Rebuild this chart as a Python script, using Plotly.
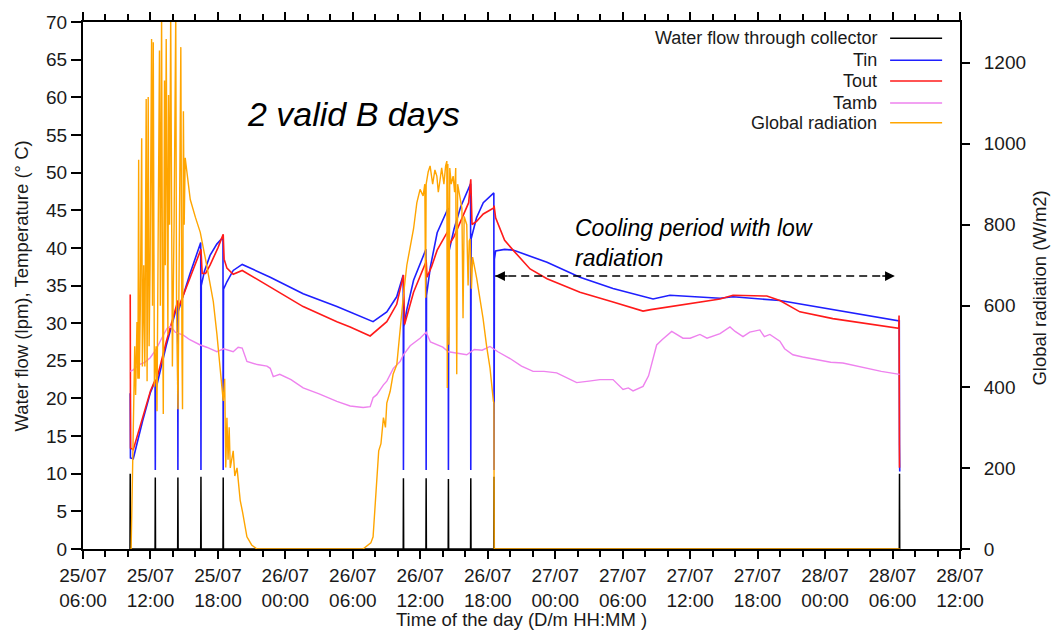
import numpy as np
import pandas as pd
import plotly.graph_objects as go

BASE = "2014-07-25 06:00"  # hours below are counted from 25/07 06:00

# Water flow through collector (lpm)
flow_h = [4.18, 4.20, 4.22, 6.41, 6.43, 6.45, 8.42, 8.44, 8.46, 10.47, 10.49, 10.51,
          12.45, 12.47, 12.49, 28.48, 28.50, 28.52, 30.50, 30.52, 30.54, 32.48, 32.50, 32.52,
          34.47, 34.49, 34.51, 36.54, 36.56, 36.58, 72.60, 72.62, 72.64]
flow_v = [0, 10.0, 0, 0, 9.5, 0, 0, 9.5, 0, 0, 9.6, 0,
          0, 9.5, 0, 0, 9.4, 0, 0, 9.4, 0, 0, 9.3, 0,
          0, 9.4, 0, 0, 9.6, 0, 0, 10.0, 0]

# Tin (deg C)
tin_h = [4.20, 4.22, 4.47, 5.30, 6.00, 6.41, 6.43, 6.45, 7.40, 8.42, 8.44, 8.46, 9.50, 10.47,
         10.49, 10.52, 10.80, 11.30, 11.90, 12.45, 12.47, 12.50, 12.80, 13.36, 14.16, 16.65,
         19.58, 22.58, 25.80, 27.02, 27.90, 28.48, 28.50, 28.53, 28.80, 29.40, 30.50, 30.52,
         30.55, 30.90, 31.50, 32.48, 32.50, 32.53, 33.00, 33.60, 34.47, 34.49, 34.52, 35.00,
         35.60, 36.54, 36.56, 36.59, 36.70, 37.50, 38.25, 41.27, 44.20, 47.14, 50.70, 51.30,
         52.20, 56.66, 57.81, 61.98, 66.69, 72.60, 72.62, 72.64]
tin_v = [20.7, 12.1, 12.0, 17.0, 20.8, 22.3, 10.5, 21.0, 27.0, 32.6, 10.5, 31.5, 36.5, 40.7,
         10.5, 35.0, 36.9, 39.0, 40.5, 41.4, 10.5, 34.5, 35.5, 37.0, 37.8, 36.1,
         33.9, 32.2, 30.2, 31.5, 33.5, 36.4, 10.5, 29.5, 31.8, 35.7, 39.8, 10.5,
         33.7, 37.5, 42.0, 45.3, 10.5, 39.4, 42.5, 45.5, 48.5, 10.5, 41.2, 44.0,
         46.0, 47.3, 10.5, 38.5, 39.6, 39.8, 39.7, 38.1, 36.1, 34.6, 33.2, 33.4,
         33.7, 33.3, 33.5, 33.0, 31.8, 30.3, 13.8, 10.3]

# Tout (deg C)
tout_h = [4.20, 4.23, 4.47, 5.30, 6.00, 6.43, 6.47, 7.40, 8.44, 8.48, 9.50, 10.49, 10.60,
          10.90, 11.30, 12.00, 12.47, 12.55, 12.80, 13.36, 14.16, 16.65, 19.58, 22.58, 23.76,
          25.54, 27.02, 27.90, 28.48, 28.50, 28.60, 28.90, 29.40, 30.50, 30.52, 30.60, 31.00,
          31.50, 32.48, 32.50, 32.60, 33.00, 33.60, 34.30, 34.49, 34.60, 35.00, 35.60, 36.53,
          36.56, 36.70, 37.09, 37.50, 38.25, 39.76, 41.27, 44.20, 47.14, 49.81, 50.50, 53.10,
          56.66, 57.81, 60.82, 61.98, 63.76, 66.69, 72.55, 72.58, 72.62]
tout_v = [33.8, 13.4, 13.2, 17.5, 21.0, 22.5, 22.0, 27.5, 33.0, 32.0, 36.0, 39.8, 36.6,
          36.6, 37.7, 40.0, 41.8, 38.5, 37.3, 36.5, 37.0, 34.8, 32.2, 30.2, 29.5,
          28.3, 30.2, 32.5, 35.9, 36.4, 29.8, 31.3, 34.1, 38.1, 38.4, 36.1, 37.5,
          39.7, 42.3, 43.0, 40.5, 41.5, 43.5, 46.0, 49.1, 43.1, 43.5, 44.5, 45.3,
          45.6, 44.0, 42.5, 41.0, 39.7, 37.2, 35.9, 34.1, 32.8, 31.6, 31.8, 32.4,
          33.2, 33.7, 33.6, 33.0, 31.5, 30.6, 29.3, 31.0, 10.8]

# Tamb (deg C)
tamb_h = [4.20, 4.47, 5.00, 5.50, 5.98, 6.50, 7.00, 7.47, 7.80, 8.20, 8.92, 9.50, 10.43, 11.00,
          11.91, 12.50, 13.36, 13.80, 14.16, 14.58, 15.50, 16.36, 16.65, 16.92, 17.50, 18.50,
          19.58, 21.00, 22.58, 23.76, 24.92, 25.54, 25.80, 26.13, 26.72, 27.02, 27.60, 28.20,
          28.50, 29.10, 29.98, 30.52, 30.90, 31.47, 32.00, 32.50, 33.24, 34.13, 34.80, 35.50,
          36.20, 36.90, 37.98, 39.00, 40.03, 41.00, 42.13, 43.00, 43.91, 45.00, 45.98, 47.14,
          48.03, 48.50, 48.92, 49.81, 50.30, 51.02, 51.50, 52.36, 52.80, 53.36, 54.00, 54.87,
          55.50, 56.66, 57.54, 58.00, 58.70, 59.30, 60.20, 60.60, 61.09, 61.98, 62.40, 63.14,
          64.00, 65.24, 66.50, 67.58, 68.50, 69.69, 71.00, 72.63]
tamb_v = [23.6, 23.8, 24.5, 24.8, 25.4, 26.5, 28.0, 29.3, 29.6, 28.8, 28.4, 27.8, 27.1, 26.8,
          26.2, 26.6, 26.2, 26.8, 26.7, 24.9, 24.5, 24.3, 24.0, 22.9, 23.2, 22.5,
          21.4, 20.6, 19.6, 19.0, 18.8, 18.9, 20.1, 20.5, 21.8, 22.3, 24.0, 24.9,
          25.8, 27.0, 28.0, 28.8, 27.5, 27.1, 26.8, 26.2, 26.0, 25.8, 26.5, 26.4,
          26.9, 26.2, 25.3, 24.3, 23.6, 23.6, 23.4, 22.8, 22.1, 22.3, 22.5, 22.5,
          21.2, 21.4, 21.0, 21.6, 23.0, 27.1, 27.8, 28.9, 28.5, 28.0, 28.0, 28.5,
          28.0, 28.6, 29.5, 28.9, 28.2, 28.8, 29.1, 28.2, 28.5, 27.6, 26.6, 25.8,
          25.5, 25.2, 24.8, 24.7, 24.4, 24.0, 23.6, 23.2]

# Global radiation (W/m2)
rad_h = [4.20, 4.28, 4.40, 4.50, 4.60, 4.68, 4.80, 4.88, 4.95, 5.00, 5.10, 5.22, 5.28, 5.40,
         5.50, 5.62, 5.70, 5.80, 5.88, 5.97, 6.10, 6.18, 6.25, 6.35, 6.50, 6.58, 6.70, 6.80,
         6.88, 6.99, 7.06, 7.14, 7.25, 7.32, 7.40, 7.48, 7.55, 7.61, 7.70, 7.80, 7.88, 7.95,
         8.10, 8.25, 8.32, 8.45, 8.55, 8.70, 8.80, 8.85, 8.93, 9.00, 9.09, 9.54, 10.00, 10.43,
         11.00, 11.32, 11.59, 11.91, 12.20, 12.47, 12.60, 12.70, 12.80, 12.90, 13.00, 13.10,
         13.36, 13.50, 13.70, 13.98, 14.20, 14.58, 15.00, 15.47, 24.90, 25.60, 25.80, 26.00,
         26.13, 26.30, 26.50, 26.72, 26.90, 27.02, 27.32, 27.58, 27.91, 28.20, 28.50, 28.80,
         29.09, 29.40, 29.69, 29.98, 30.25, 30.40, 30.47, 30.52, 30.70, 30.87, 31.10, 31.30,
         31.47, 31.60, 31.76, 31.90, 32.10, 32.25, 32.36, 32.40, 32.45, 32.55, 32.62, 32.75,
         32.92, 33.05, 33.15, 33.24, 33.32, 33.54, 33.70, 33.80, 33.90, 34.13, 34.25, 34.35,
         34.43, 34.55, 34.65, 35.02, 35.30, 35.58, 35.90, 36.20, 36.50, 36.55, 36.57, 72.65]
rad_v = [0, 0, 180, 330, 500, 380, 560, 420, 960, 420, 600, 1013, 450, 700,
         450, 1110, 414, 1115, 500, 700, 1258, 600, 1250, 400, 500, 340, 800, 1230,
         600, 1320, 700, 333, 1156, 700, 1258, 900, 529, 1120, 800, 1320, 600, 450,
         800, 1320, 600, 345, 700, 1238, 500, 345, 1080, 800, 965, 862, 818, 781,
         700, 651, 610, 530, 438, 365, 420, 201, 324, 220, 300, 200,
         242, 180, 200, 120, 90, 30, 10, 0, 0, 15, 30, 120,
         161, 242, 260, 324, 300, 360, 389, 431, 455, 544, 626, 700,
         749, 790, 854, 887, 871, 900, 620, 900, 930, 945, 900, 935,
         920, 880, 911, 940, 900, 945, 957, 397, 950, 504, 940, 900,
         920, 880, 940, 431, 900, 862, 840, 569, 820, 800, 650, 760,
         765, 642, 720, 667, 620, 569, 500, 446, 365, 360, 0, 0]

# Axis ticks
x_start, x_end = "2014-07-25 06:00", "2014-07-28 12:00"
legend_names = ["Water flow through collector", "Tin", "Tout", "Tamb", "Global radiation"]
colors = ["#000000", "#1f1fff", "#ff1a1a", "#ee82ee", "#ffa500"]


def to_time(h):
    return pd.Timestamp(BASE) + pd.to_timedelta(np.array(h, dtype=float), unit="h")


FONT = "Liberation Sans, Arial, sans-serif"
TXT = "#1a1a1a"

fig = go.Figure()
fig.add_trace(go.Scatter(x=to_time(flow_h), y=flow_v, mode="lines",
                         line=dict(color=colors[0], width=1.5), name=legend_names[0]))
fig.add_trace(go.Scatter(x=to_time(tin_h), y=tin_v, mode="lines",
                         line=dict(color=colors[1], width=1.6), name=legend_names[1]))
fig.add_trace(go.Scatter(x=to_time(tout_h), y=tout_v, mode="lines",
                         line=dict(color=colors[2], width=1.6), name=legend_names[2]))
fig.add_trace(go.Scatter(x=to_time(tamb_h), y=tamb_v, mode="lines",
                         line=dict(color=colors[3], width=1.4), name=legend_names[3]))
fig.add_trace(go.Scatter(x=to_time(rad_h), y=rad_v, mode="lines", yaxis="y2",
                         line=dict(color=colors[4], width=1.4), name=legend_names[4]))

fig.update_layout(
    width=1053, height=631,
    margin=dict(l=83, r=93, t=19, b=82),
    paper_bgcolor="white", plot_bgcolor="white",
    showlegend=False,
    font=dict(family=FONT, color=TXT, size=19),
    xaxis=dict(type="date", range=[x_start, x_end], tick0=x_start, dtick=6 * 3600 * 1000,
               tickformat="%d/%m<br>%H:%M", ticks="outside", ticklen=8, tickwidth=1.5,
               tickcolor="black", showline=True, linewidth=2, linecolor="black",
               mirror="ticks", showgrid=False, zeroline=False,
               tickfont=dict(size=19, family=FONT, color=TXT),
               minor=dict(dtick=2 * 3600 * 1000, ticks="outside", ticklen=6, tickwidth=1.5,
                          tickcolor="black", showgrid=False)),
    yaxis=dict(range=[0, 70], dtick=5, tick0=0, ticks="outside", ticklen=10, tickwidth=1.5,
               tickcolor="black", showline=True, linewidth=2, linecolor="black",
               showgrid=False, zeroline=False, tickfont=dict(size=19, family=FONT, color=TXT)),
    yaxis2=dict(range=[0, 1300], dtick=200, tick0=0, overlaying="y", side="right",
                ticks="outside", ticklen=8, tickwidth=1.5, tickcolor="black",
                showline=True, linewidth=2, linecolor="black", showgrid=False,
                zeroline=False, ticklabelstandoff=10,
                tickfont=dict(size=19, family=FONT, color=TXT)),
)

annotations = [
    dict(text="Water flow (lpm), Temperature (° C)", x=-0.0696, y=0.5, xref="paper",
         yref="paper", xanchor="center", yanchor="middle", textangle=-90, showarrow=False,
         font=dict(size=18.5, family=FONT, color=TXT)),
    dict(text="Global radiation (W/m2)", x=1.0912, y=0.496, xref="paper", yref="paper",
         xanchor="center", yanchor="middle", textangle=-90, showarrow=False,
         font=dict(size=18.5, family=FONT, color=TXT)),
    dict(text="Time of the day (D/m HH:MM )", x=0.5, y=-0.134, xref="paper", yref="paper",
         xanchor="center", yanchor="middle", showarrow=False,
         font=dict(size=18.5, family=FONT, color=TXT)),
    dict(text="<i>2 valid B days</i>", x=0.308, y=0.8245, xref="paper", yref="paper",
         xanchor="center", yanchor="middle", showarrow=False,
         font=dict(size=34, family=FONT, color="black")),
    dict(text="<i>Cooling period with low<br>radiation</i>", x=0.5587, y=0.637,
         xref="paper", yref="paper", xanchor="left", yanchor="top", align="left",
         showarrow=False, font=dict(size=23, family=FONT, color="black")),
]

# legend (text right, sample line to the right)
leg_y = [0.9692, 0.9276, 0.8880, 0.8465, 0.8088]
shapes = []
for name, col, yy in zip(legend_names, colors, leg_y):
    annotations.append(dict(text=name, x=0.9077, y=yy, xref="paper", yref="paper",
                            xanchor="right", yanchor="middle", showarrow=False,
                            font=dict(size=18, family=FONT, color=TXT)))
    shapes.append(dict(type="line", xref="paper", yref="paper", x0=0.9203, x1=0.9796,
                       y0=yy, y1=yy, line=dict(color=col, width=1.5)))

# dashed double arrow for the cooling period
arr_y = 36.25
arr_x0 = pd.Timestamp(BASE) + pd.Timedelta(hours=36.66)
arr_x1 = pd.Timestamp(BASE) + pd.Timedelta(hours=72.2)
shapes.append(dict(type="line", xref="x", yref="y", x0=arr_x0, x1=arr_x1, y0=arr_y, y1=arr_y,
                   line=dict(color="black", width=1.5, dash="8px,5px")))
annotations.append(dict(x=arr_x0, y=arr_y, xref="x", yref="y", ax=14, ay=0, text="",
                        showarrow=True, arrowhead=2, arrowsize=1.3, arrowwidth=1.5,
                        arrowcolor="black"))
annotations.append(dict(x=arr_x1, y=arr_y, xref="x", yref="y", ax=-14, ay=0, text="",
                        showarrow=True, arrowhead=2, arrowsize=1.3, arrowwidth=1.5,
                        arrowcolor="black"))

fig.update_layout(annotations=annotations, shapes=shapes)
fig.write_html("out.html")
